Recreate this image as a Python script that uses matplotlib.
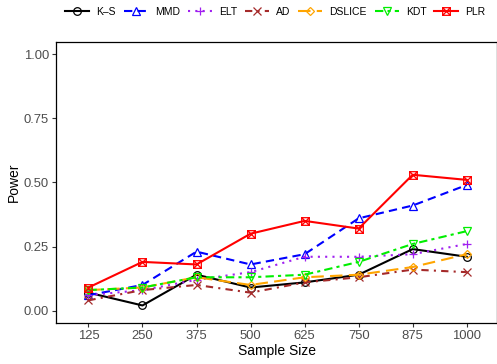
import matplotlib
matplotlib.use("Agg")
import matplotlib.pyplot as plt
from matplotlib.path import Path
import numpy as np

plt.rcParams['font.family'] = ['Liberation Sans', 'DejaVu Sans']

sample_sizes = ["125", "250", "375", "500", "625", "750", "875", "1000"]
ks = [0.07, 0.02, 0.14, 0.09, 0.11, 0.14, 0.24, 0.21]
mmd = [0.06, 0.10, 0.23, 0.18, 0.22, 0.36, 0.41, 0.49]
elt = [0.06, 0.08, 0.12, 0.15, 0.21, 0.21, 0.22, 0.26]
ad = [0.04, 0.08, 0.10, 0.07, 0.11, 0.13, 0.16, 0.15]
dslice = [0.08, 0.09, 0.13, 0.10, 0.13, 0.14, 0.17, 0.22]
kdt = [0.08, 0.09, 0.13, 0.13, 0.14, 0.19, 0.26, 0.31]
plr = [0.09, 0.19, 0.18, 0.30, 0.35, 0.32, 0.53, 0.51]
y_ticks = [0.0, 0.25, 0.5, 0.75, 1.0]
y_labels = ["0.00", "0.25", "0.50", "0.75", "1.00"]

sq_x = Path([(-1, -1), (1, -1), (1, 1), (-1, 1), (-1, -1),
             (-1, -1), (1, 1), (-1, 1), (1, -1)],
            [Path.MOVETO, Path.LINETO, Path.LINETO, Path.LINETO, Path.CLOSEPOLY,
             Path.MOVETO, Path.LINETO, Path.MOVETO, Path.LINETO])

series = [
    ("K\u2013S", ks, "black", "-", "o"),
    ("MMD", mmd, "blue", (0, (4, 2.5)), "^"),
    ("ELT", elt, "#A020F0", (0, (1, 2.5)), "+"),
    ("AD", ad, "#A52A2A", (0, (3.5, 2.5, 1, 2.5)), "x"),
    ("DSLICE", dslice, "orange", (0, (6, 3)), "D"),
    ("KDT", kdt, "#00EE00", (0, (4, 2, 1.5, 2)), "v"),
    ("PLR", plr, "red", "-", sq_x),
]

fig = plt.figure(figsize=(4.97, 3.64), dpi=100)
ax = fig.add_axes([56/497, 1-323.4/364, 441/497, (323.4-41.5)/364])
xpos = np.arange(1, len(sample_sizes)+1)
handles = []
for name, vals, col, ls, mk in series:
    ms = 5.5
    if mk == "D":
        ms = 4.5
    h, = ax.plot(xpos, vals, color=col, linestyle=ls, lw=1.5, marker=mk,
                 markersize=ms, markerfacecolor='none', markeredgecolor=col,
                 markeredgewidth=0.9, label=name)
    handles.append(h)

ax.set_xlim(0.4, 8.56)
ax.set_ylim(-0.05, 1.05)
ax.set_xticks(xpos)
ax.set_xticklabels(sample_sizes)
ax.set_yticks(y_ticks)
ax.set_yticklabels(y_labels)
ax.tick_params(axis='both', colors='#333333', labelcolor='#4D4D4D', labelsize=9.4,
               length=3, width=0.8, pad=2)
for s in ax.spines.values():
    s.set_color('black')
    s.set_linewidth(0.9)
ax.set_xlabel("Sample Size", fontsize=10, labelpad=1)
ax.set_ylabel("Power", fontsize=10, labelpad=2)

fig.legend(handles=handles, loc='center left', bbox_to_anchor=(65/497, 1-12/364),
           ncol=7, frameon=False, fontsize=7.5, handlelength=2.3,
           handletextpad=0.7, columnspacing=0.75, borderaxespad=0, borderpad=0)

fig.savefig("out.png", dpi=100)
